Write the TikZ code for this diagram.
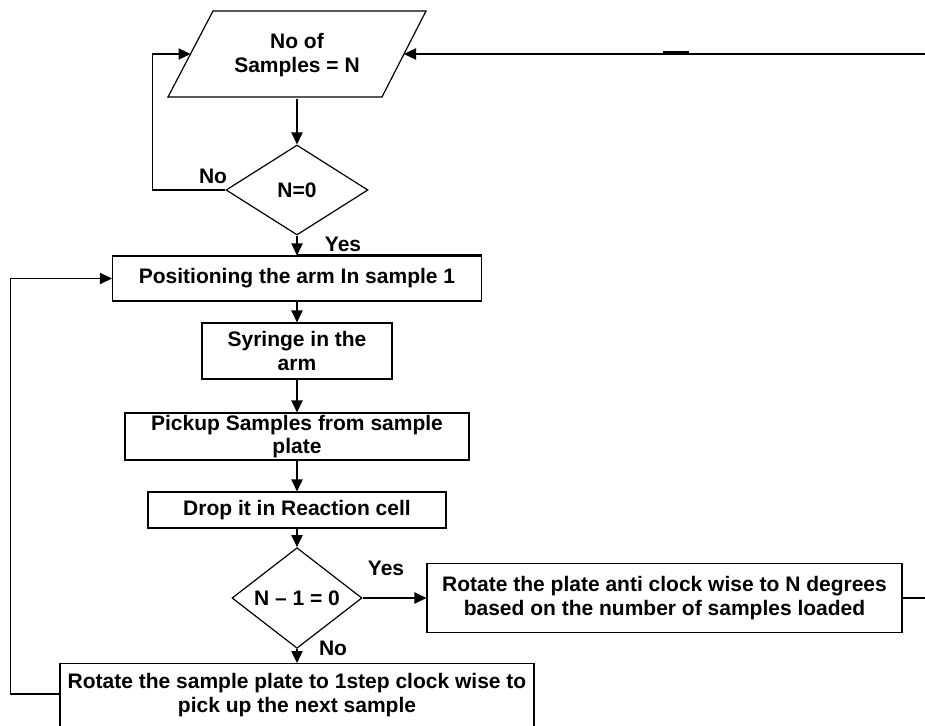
\documentclass[tikz,border=0pt]{standalone}
\usepackage{fontspec}
\setmainfont{Liberation Sans}
\usetikzlibrary{shapes.geometric,arrows.meta}
\begin{document}
\begin{tikzpicture}[x=0.75pt,y=-0.75pt,
  font=\fontsize{15.75}{17.5}\selectfont\bfseries,
  line width=0.9pt,
  box/.style={draw, rectangle, inner sep=0pt, align=center},
  dec/.style={draw, diamond, inner sep=0pt},
  arr/.style={-{Triangle[length=9pt,width=8.5pt]}},
  lbl/.style={inner sep=0pt}]
\useasboundingbox (0,0) rectangle (925,725);
\clip (0,0) rectangle (925,725);

% parallelogram
\node[inner sep=0pt, align=center, minimum width=120pt, minimum height=64.5pt] (par) at (297,55) {No of\\Samples = N};
\draw (213,11) -- (426,11) -- (382,97) -- (168,97) -- cycle;
\coordinate (parL) at (190.5,54);
\coordinate (parR) at (404,54);

\node[dec, minimum width=106.5pt, minimum height=67.5pt] (d1) at (297,190) {N=0};
\node[box, minimum width=276.75pt, minimum height=33.75pt] (b1) at (297,278.5) {Positioning the arm In sample 1};
\node[box, minimum width=142.5pt, minimum height=42pt] (b2) at (297,351) {Syringe in the\\arm};
\node[box, minimum width=258pt, minimum height=35.25pt] (b3) at (297,436.5) {Pickup Samples from sample\\plate};
\node[box, minimum width=223.5pt, minimum height=27pt] (b4) at (297,510) {Drop it in Reaction cell};
\node[dec, minimum width=97.5pt, minimum height=59.25pt] (d2) at (297,598) {N -- 1 = 0};
\node[box, minimum width=356.25pt, minimum height=51.75pt] (b5) at (664.5,598) {Rotate the plate anti clock wise to N degrees\\based on the number of samples loaded};
\node[box, anchor=north, minimum width=355.5pt, inner ysep=7.5pt] (b6) at (297,663) {Rotate the sample plate to 1step clock wise to\\pick up the next sample\\\mbox{}};

% connectors
\draw[arr] (par.south) -- (d1.north);
\draw[arr] (d1.west) -- ++(-73,0) |- (parL);
\node[lbl] (no1) at (213,176) {No};
\draw[arr] (d1.south) -- (b1.north);
\node[lbl] (yes1) at (343,244) {Yes};
\draw[line width=1.5pt] (b1.north) -- (b1.north east);
\draw[arr] (b1.south) -- (b2.north);
\draw[arr] (b2.south) -- (b3.north);
\draw[arr] (b3.south) -- (b4.north);
\draw[arr] (b4.south) -- (d2.north);
\draw[arr] (d2.east) -- (b5.west);
\node[lbl] (yes2) at (386,568) {Yes};
\draw[arr] (d2.south) -- (b6.north);
\node[lbl] (no2) at (333,648) {No};
\draw[arr] (b6.north west) ++(0,31) -- ++(-49,0) |- (b1.west);
\draw[arr] (b5.east) -- ++(40,0) |- (parR);
\draw[line width=2.6pt] (663,53) -- (689,53);
\end{tikzpicture}
\end{document}
